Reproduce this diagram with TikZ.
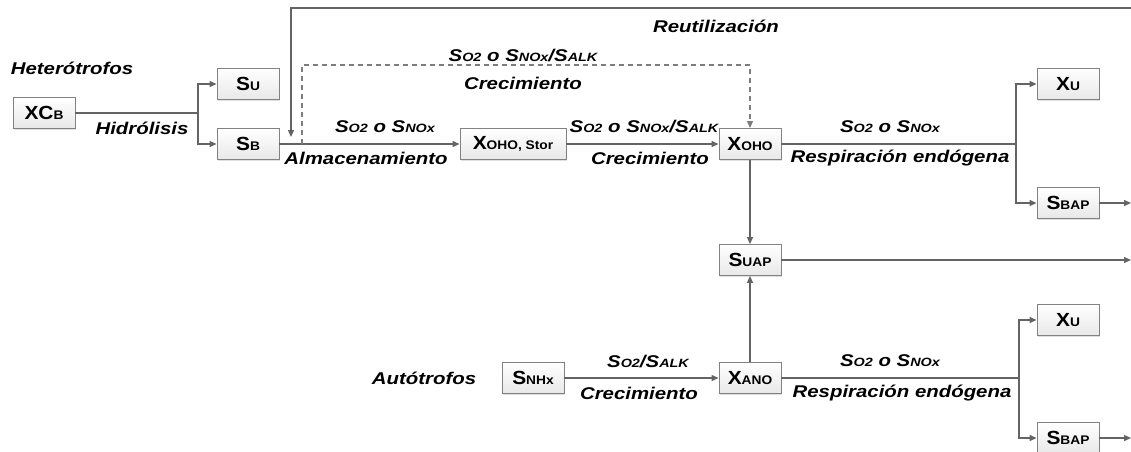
\documentclass[tikz,border=0pt]{standalone}
\usepackage{fontspec}
\setmainfont{Liberation Sans}[FakeStretch=1.2]
\newfontfamily\boxfont{Liberation Sans}[FakeStretch=1.1]
\usetikzlibrary{arrows.meta,shadows}
\definecolor{ln}{RGB}{100,100,100}
\definecolor{dl}{RGB}{125,125,125}
\definecolor{bd}{RGB}{130,130,130}
\newcommand{\bsub}[1]{{\fontsize{12.5}{12.5}\selectfont #1}}
\newcommand{\lsub}[1]{{\fontsize{12}{12}\selectfont #1}}
\tikzset{
  box/.style={draw=bd, line width=0.9pt, top color=white, bottom color=gray!18,
    minimum width=62pt, minimum height=31pt, inner sep=0pt,
    font=\boxfont\fontsize{19}{19}\selectfont\bfseries,
    drop shadow={opacity=0.25, shadow xshift=1.2pt, shadow yshift=-1.2pt}},
  lbl/.style={font=\fontsize{17}{17}\selectfont\bfseries\itshape, inner sep=0pt},
  conn/.style={draw=ln, line width=1.3pt},
  arr/.style={conn, -{Triangle[length=7pt,width=6pt]}},
}
\begin{document}
\begin{tikzpicture}[x=1pt,y=-1pt]
\useasboundingbox (0,0) rectangle (1131,451);
% boxes
\node[box] (xcb) at (44,113) {XC\bsub{B}};
\node[box] (su) at (248,84) {S\bsub{U}};
\node[box] (sb) at (248,144) {S\bsub{B}};
\node[box, minimum width=106pt] (stor) at (513,144) {X\bsub{OHO, Stor}};
\node[box] (xoho) at (750,144) {X\bsub{OHO}};
\node[box] (suap) at (750,260) {S\bsub{UAP}};
\node[box] (xu1) at (1068,84) {X\bsub{U}};
\node[box] (sbap1) at (1068,203) {S\bsub{BAP}};
\node[box] (snhx) at (533,378) {S\bsub{NHx}};
\node[box] (xano) at (750,378) {X\bsub{ANO}};
\node[box] (xu2) at (1068,320) {X\bsub{U}};
\node[box] (sbap2) at (1068,438) {S\bsub{BAP}};
% coordinates
\coordinate (br1) at (198,113);
\coordinate (br2) at (1016,144);
\coordinate (br3) at (1019,378);
\coordinate (e1) at (1131,203);
\coordinate (e2) at (1131,260);
\coordinate (e3) at (1131,438);
\coordinate (rtop) at (1131,8);
\coordinate (rleft) at (291,8);
\coordinate (rtip) at (291,137);
\coordinate (dstart) at (302,144);
\coordinate (dtl) at (302,65);
\coordinate (dtr) at (750,65);
% connectors
\draw[conn] (xcb.east) -- (br1);
\draw[arr] (br1) |- (su.west);
\draw[arr] (br1) |- (sb.west);
\draw[arr] (sb.east) -- (stor.west);
\draw[arr] (stor.east) -- (xoho.west);
\draw[conn] (xoho.east) -- (br2);
\draw[arr] (br2) |- (xu1.west);
\draw[arr] (br2) |- (sbap1.west);
\draw[arr] (sbap1.east) -- (e1);
\draw[arr] (xoho.south) -- (suap.north);
\draw[arr] (xano.north) -- (suap.south);
\draw[arr] (suap.east) -- (e2);
\draw[arr] (snhx.east) -- (xano.west);
\draw[conn] (xano.east) -- (br3);
\draw[arr] (br3) |- (xu2.west);
\draw[arr] (br3) |- (sbap2.west);
\draw[arr] (sbap2.east) -- (e3);
\draw[arr] (rtop) -- (rleft) -- (rtip);
\draw[arr, draw=dl, dash pattern=on 5pt off 4pt] (dstart) -- (dtl) -- (dtr) -- (xoho.north);
% labels
\node[lbl] (lhet) at (72,68) {Heterótrofos};
\node[lbl] (lhid) at (142,128) {Hidrólisis};
\node[lbl] (lreu) at (716,26) {Reutilización};
\node[lbl] (ld1) at (523,56) {S\lsub{O2} o S\lsub{NOx}/S\lsub{ALK}};
\node[lbl] (ld2) at (523,83) {Crecimiento};
\node[lbl] (la1) at (385,127) {S\lsub{O2} o S\lsub{NOx}};
\node[lbl] (la2) at (366,158) {Almacenamiento};
\node[lbl] (lc1) at (644,127) {S\lsub{O2} o S\lsub{NOx}/S\lsub{ALK}};
\node[lbl] (lc2) at (650,158) {Crecimiento};
\node[lbl] (lr1) at (890,127) {S\lsub{O2} o S\lsub{NOx}};
\node[lbl] (lr2) at (900,158) {Respiración endógena};
\node[lbl] (laut) at (424,378) {Autótrofos};
\node[lbl] (lg1) at (648,361) {S\lsub{O2}/S\lsub{ALK}};
\node[lbl] (lg2) at (639,393) {Crecimiento};
\node[lbl] (lr3) at (890,361) {S\lsub{O2} o S\lsub{NOx}};
\node[lbl] (lr4) at (902,393) {Respiración endógena};
\end{tikzpicture}
\end{document}
